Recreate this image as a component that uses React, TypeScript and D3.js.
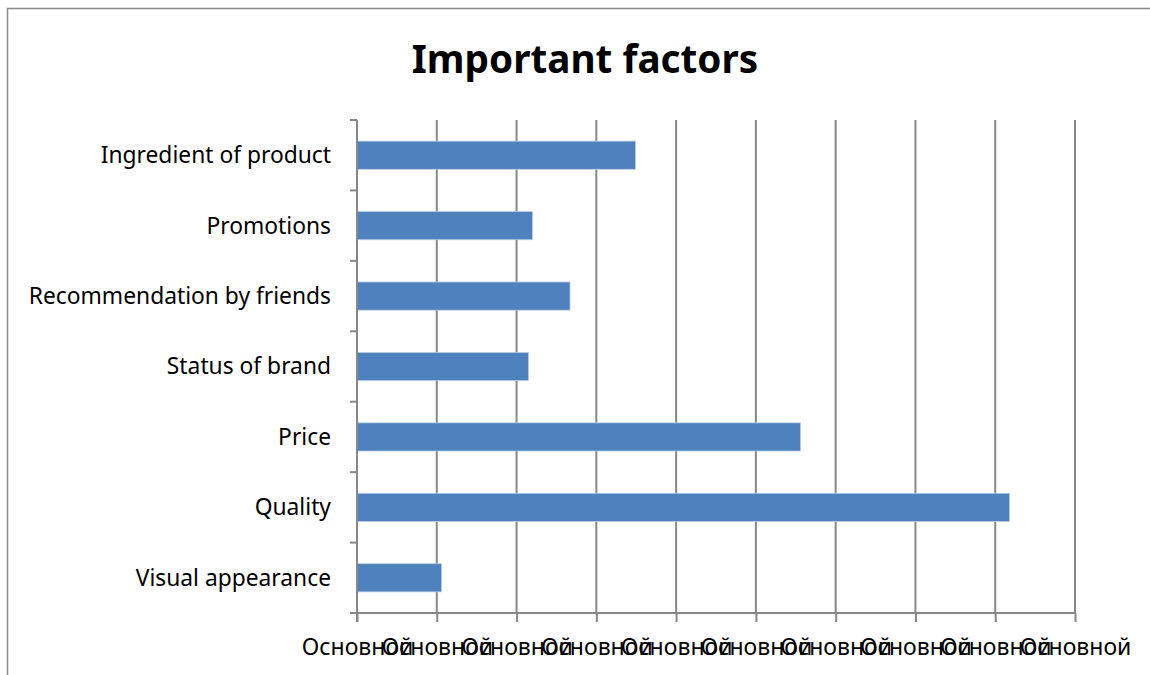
import React, { useEffect, useRef } from 'react';
import * as d3 from 'd3';

// Top-to-bottom order as shown in the chart
const categories = [
  'Ingredient of product',
  'Promotions',
  'Recommendation by friends',
  'Status of brand',
  'Price',
  'Quality',
  'Visual appearance',
];
const values = [3.49, 2.2, 2.67, 2.15, 5.56, 8.18, 1.06];
const tickValues = [0, 1, 2, 3, 4, 5, 6, 7, 8, 9];
const tickLabels = tickValues.map(() => 'Основной');

const App: React.FC = () => {
  const svgRef = useRef<SVGSVGElement>(null);

  useEffect(() => {
    if (!svgRef.current) return;
    const svg = d3.select(svgRef.current);
    svg.selectAll('*').remove();

    const width = 1150;
    const height = 675;
    const plot = { left: 357, right: 1075, top: 120, bottom: 613 };
    const font = '"Noto Sans", "Open Sans", sans-serif';
    const gridColor = '#878787';

    // Outer chart border (cropped on right/bottom)
    svg
      .append('rect')
      .attr('x', 7.5)
      .attr('y', 8.5)
      .attr('width', width + 20)
      .attr('height', height + 20)
      .attr('fill', 'white')
      .attr('stroke', '#8a8a8a')
      .attr('stroke-width', 1.5);

    // Title
    svg
      .append('text')
      .attr('x', 585)
      .attr('y', 73)
      .attr('text-anchor', 'middle')
      .style('font-family', font)
      .style('font-weight', 'bold')
      .style('font-size', '38.7px')
      .style('fill', '#000')
      .text('Important factors');

    const xScale = d3.scaleLinear().domain([0, 9]).range([plot.left, plot.right]);
    const yScale = d3
      .scaleBand<string>()
      .domain(categories)
      .range([plot.top, plot.bottom])
      .paddingInner(0.6)
      .paddingOuter(0.3);

    // Vertical gridlines
    svg
      .append('g')
      .selectAll('line')
      .data(tickValues)
      .enter()
      .append('line')
      .attr('x1', (d) => xScale(d))
      .attr('x2', (d) => xScale(d))
      .attr('y1', plot.top)
      .attr('y2', plot.bottom)
      .attr('stroke', gridColor)
      .attr('stroke-width', 2);

    // Bars
    svg
      .append('g')
      .selectAll('rect')
      .data(categories)
      .enter()
      .append('rect')
      .attr('x', xScale(0))
      .attr('y', (d) => yScale(d) as number)
      .attr('width', (d, i) => xScale(values[i]) - xScale(0))
      .attr('height', yScale.bandwidth())
      .attr('fill', '#4F81BD')
      .attr('stroke', '#b9cde5')
      .attr('stroke-width', 0.8);

    // X axis
    const xAxis = svg
      .append('g')
      .attr('transform', `translate(0,${plot.bottom})`)
      .call(
        d3
          .axisBottom(xScale)
          .tickValues(tickValues)
          .tickSize(9)
          .tickSizeOuter(0)
          .tickPadding(17)
          .tickFormat((d, i) => tickLabels[i])
      );
    xAxis.select('.domain').remove();
    xAxis
      .append('line')
      .attr('x1', plot.left - 7)
      .attr('x2', plot.right)
      .attr('stroke', gridColor)
      .attr('stroke-width', 2);
    xAxis.selectAll('.tick line').attr('stroke', gridColor).attr('stroke-width', 2);
    xAxis
      .selectAll('.tick text')
      .style('font-family', font)
      .style('font-size', '23px')
      .style('fill', '#000');

    // Y axis
    const step = yScale.step();
    const catTicks = d3.range(categories.length + 1).map((i) => plot.top + i * step);
    const yAxis = svg.append('g');
    yAxis
      .append('line')
      .attr('x1', plot.left)
      .attr('x2', plot.left)
      .attr('y1', plot.top)
      .attr('y2', plot.bottom + 9)
      .attr('stroke', gridColor)
      .attr('stroke-width', 2);
    yAxis
      .selectAll('.cat-tick')
      .data(catTicks)
      .enter()
      .append('line')
      .attr('class', 'cat-tick')
      .attr('x1', plot.left - 7)
      .attr('x2', plot.left)
      .attr('y1', (d) => d)
      .attr('y2', (d) => d)
      .attr('stroke', gridColor)
      .attr('stroke-width', 2);
    yAxis
      .selectAll('.cat-label')
      .data(categories)
      .enter()
      .append('text')
      .attr('class', 'cat-label')
      .attr('x', plot.left - 26)
      .attr('y', (d) => (yScale(d) as number) + yScale.bandwidth() / 2)
      .attr('dy', '0.35em')
      .attr('text-anchor', 'end')
      .style('font-family', font)
      .style('font-size', '22.8px')
      .style('fill', '#000')
      .text((d) => d);
  }, []);

  return (
    <svg
      ref={svgRef}
      width={1150}
      height={675}
      style={{ position: 'absolute', left: 0, top: 0, background: 'white' }}
    />
  );
};

export default App;
